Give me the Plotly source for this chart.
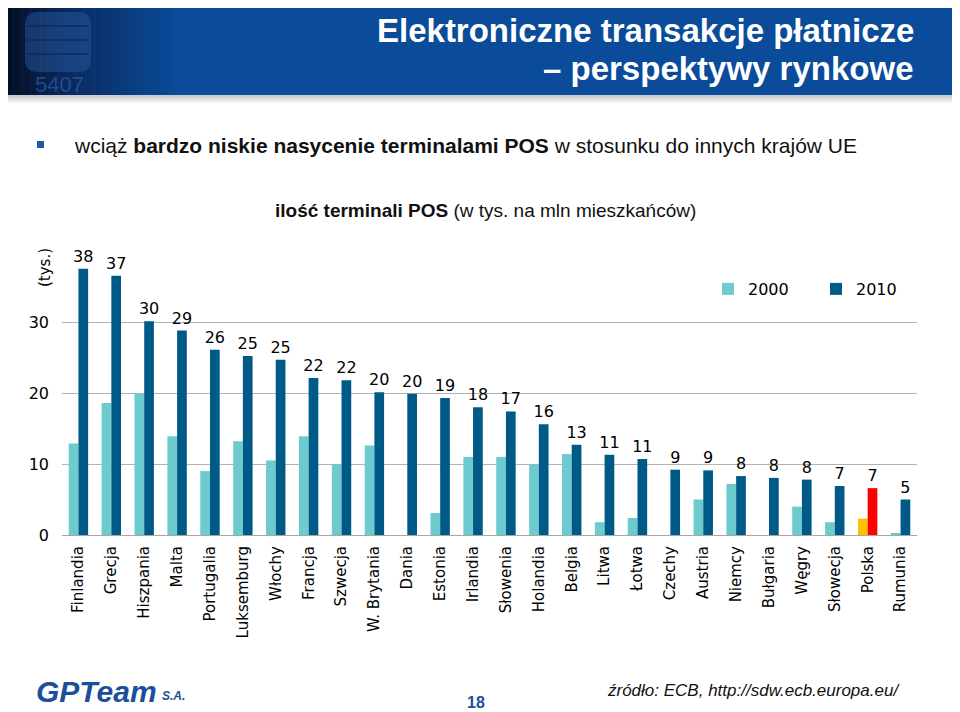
import plotly.graph_objects as go

# ---------------- data ----------------
categories = ["Finlandia", "Grecja", "Hiszpania", "Malta", "Portugalia", "Luksemburg",
              "Włochy", "Francja", "Szwecja", "W. Brytania", "Dania", "Estonia",
              "Irlandia", "Słowenia", "Holandia", "Belgia", "Litwa", "Łotwa",
              "Czechy", "Austria", "Niemcy", "Bułgaria", "Węgry", "Słowecja",
              "Polska", "Rumunia"]
values_2000 = [12.9, 18.6, 19.9, 13.9, 9.0, 13.2, 10.5, 13.9, 9.9, 12.6, None, 3.1,
               11.0, 11.0, 9.9, 11.4, 1.8, 2.4, None, 5.0, 7.2, None, 4.0, 1.8,
               2.3, 0.2]
values_2010 = [37.5, 36.5, 30.1, 28.8, 26.1, 25.2, 24.7, 22.1, 21.8, 20.1, 19.9, 19.3,
               18.0, 17.4, 15.6, 12.7, 11.3, 10.7, 9.2, 9.1, 8.3, 8.05, 7.8, 6.9,
               6.6, 5.0]
labels_2010 = [38, 37, 30, 29, 26, 25, 25, 22, 22, 20, 20, 19, 18, 17, 16, 13, 11, 11,
               9, 9, 8, 8, 8, 7, 7, 5]
series_names = ["2000", "2010"]
y_ticks = [0, 10, 20, 30, 40]
y_ticktext = ["0", "10", "20", "30", ""]

highlight = "Polska"
C2000, C2010 = "#6DCBD0", "#005A87"
H2000, H2010 = "#FFC000", "#FF0000"

colors_2000 = [H2000 if c == highlight else C2000 for c in categories]
colors_2010 = [H2010 if c == highlight else C2010 for c in categories]

# ---------------- geometry helpers (reference pixel coords) ----------------
PAGE_OFF = 8                      # browser body margin
W, H = 960 - PAGE_OFF, 712 - PAGE_OFF
L, R, T, B = 62, 43, 251, 177     # plot area in reference coords
PW, PH = 960 - L - R, 712 - T - B


def px(x):
    return (x - L) / PW


def py(y):
    return (712 - B - y) / PH


CHART_FONT = "DejaVu Sans, Verdana, sans-serif"
NARROW = "Liberation Sans Narrow, Arial Narrow, Liberation Sans, sans-serif"

fig = go.Figure()
fig.add_trace(go.Bar(x=categories, y=values_2000, name=series_names[0],
                     marker=dict(color=colors_2000, line=dict(width=0)),
                     hoverinfo="x+y"))
fig.add_trace(go.Bar(x=categories, y=values_2010, name=series_names[1],
                     marker=dict(color=colors_2010, line=dict(width=0)),
                     text=labels_2010, textposition="outside", constraintext="none",
                     cliponaxis=False,
                     textfont=dict(size=16, color="#000000", family=CHART_FONT)))

shapes = []
annotations = []


def lerp(c1, c2, t):
    return "rgb(%d,%d,%d)" % tuple(round(a + (b - a) * t) for a, b in zip(c1, c2))


dark = (4, 12, 30)
mid = (10, 40, 90)
blue = (10, 75, 154)
shapes.append(dict(type="rect", xref="paper", yref="paper", x0=px(0), x1=px(960),
                   y0=py(95), y1=py(0), fillcolor=lerp(blue, blue, 0), line=dict(width=0),
                   layer="below"))
N = 40
for i in range(N):
    x0 = i * 4.5
    t = i / (N - 1)
    if t < 0.35:
        col = lerp(dark, mid, t / 0.35)
    else:
        col = lerp(mid, blue, (t - 0.35) / 0.65)
    shapes.append(dict(type="rect", xref="paper", yref="paper", x0=px(x0), x1=px(x0 + 4.6),
                       y0=py(95), y1=py(0), fillcolor=col, line=dict(width=0), layer="below"))
# chip
shapes.append(dict(type="path", xref="paper", yref="paper",
                   path="M %f,%f L %f,%f Q %f,%f %f,%f L %f,%f Q %f,%f %f,%f L %f,%f Q %f,%f %f,%f L %f,%f Q %f,%f %f,%f Z" % (
                       px(38), py(12), px(78), py(12), px(91), py(12), px(91), py(25),
                       px(91), py(60), px(91), py(72), px(78), py(72),
                       px(38), py(72), px(25), py(72), px(25), py(60),
                       px(25), py(25), px(25), py(12), px(38), py(12)),
                   fillcolor="rgba(40,95,170,0.45)", line=dict(width=0), layer="below"))
for yy in (26, 40, 54):
    shapes.append(dict(type="line", xref="paper", yref="paper", x0=px(27), x1=px(89),
                       y0=py(yy), y1=py(yy), line=dict(color="rgba(10,30,70,0.6)", width=1.5),
                       layer="below"))
annotations.append(dict(text="5407", x=px(33), y=py(84), xref="paper", yref="paper",
                        xanchor="left", yanchor="middle", showarrow=False,
                        font=dict(family=NARROW, size=22, color="rgba(40,95,170,0.7)")))
# gray strip below banner
for i, col in enumerate(["#c9cdd3", "#d6d9dd", "#e4e6e8", "#f1f2f3"]):
    shapes.append(dict(type="rect", xref="paper", yref="paper", x0=px(0), x1=px(960),
                       y0=py(95 + 2 * (i + 1)), y1=py(95 + 2 * i), fillcolor=col,
                       line=dict(width=0), layer="below"))

# title
annotations.append(dict(text="<b>Elektroniczne transakcje płatnicze</b>", x=px(916), y=py(31),
                        xref="paper", yref="paper", xanchor="right", yanchor="middle",
                        showarrow=False, font=dict(family=NARROW, size=33, color="white")))
annotations.append(dict(text="<b>– perspektywy rynkowe</b>", x=px(916), y=py(68),
                        xref="paper", yref="paper", xanchor="right", yanchor="middle",
                        showarrow=False, font=dict(family=NARROW, size=33, color="white")))

# bullet
shapes.append(dict(type="rect", xref="paper", yref="paper", x0=px(37), x1=px(44),
                   y0=py(148), y1=py(141), fillcolor="#1f5aa0", line=dict(width=0)))
annotations.append(dict(text="wciąż <b>bardzo niskie nasycenie terminalami POS</b> w stosunku do innych krajów UE",
                        x=px(72), y=py(145), xref="paper", yref="paper", xanchor="left",
                        yanchor="middle", showarrow=False,
                        font=dict(family=NARROW, size=21, color="#111111")))
annotations.append(dict(text="<b>ilość terminali POS</b> (w tys. na mln mieszkańców)",
                        x=px(485), y=py(210), xref="paper", yref="paper", xanchor="center",
                        yanchor="middle", showarrow=False,
                        font=dict(family=NARROW, size=19, color="#111111")))

# axis unit label
annotations.append(dict(text="(tys.)", x=px(45), y=py(268), xref="paper", yref="paper",
                        xanchor="center", yanchor="middle", textangle=-90, showarrow=False,
                        font=dict(family=CHART_FONT, size=15, color="#000000")))

# footer
annotations.append(dict(text="<b><i>GPTeam</i></b>", x=px(34), y=py(691), xref="paper",
                        yref="paper", xanchor="left", yanchor="middle", showarrow=False,
                        font=dict(family="Liberation Sans, Arial, sans-serif", size=30,
                                  color="#1a4f9c")))
annotations.append(dict(text="<b><i>S.A.</i></b>", x=px(160), y=py(696), xref="paper",
                        yref="paper", xanchor="left", yanchor="middle", showarrow=False,
                        font=dict(family="Liberation Sans, Arial, sans-serif", size=12,
                                  color="#1a4f9c")))
annotations.append(dict(text="<b>18</b>", x=px(476), y=py(702), xref="paper", yref="paper",
                        xanchor="center", yanchor="middle", showarrow=False,
                        font=dict(family=NARROW, size=16, color="#1b4f9c")))
annotations.append(dict(text="<i>źródło: ECB, http://sdw.ecb.europa.eu/</i>", x=px(605),
                        y=py(690), xref="paper", yref="paper", xanchor="left",
                        yanchor="middle", showarrow=False,
                        font=dict(family=NARROW, size=17, color="#111111")))

fig.update_layout(
    width=W, height=H,
    margin=dict(l=L - PAGE_OFF, r=R, t=T - PAGE_OFF, b=B, autoexpand=False),
    paper_bgcolor="white", plot_bgcolor="white",
    barmode="group", bargap=0.41, bargroupgap=0,
    font=dict(family=CHART_FONT, size=15, color="#000000"),
    showlegend=True,
    legend=dict(orientation="h", x=px(708), y=py(289), xref="paper", yref="paper",
                xanchor="left", yanchor="middle", entrywidth=63,
                entrywidthmode="pixels", font=dict(size=16, family=CHART_FONT),
                bgcolor="rgba(0,0,0,0)", itemwidth=30, tracegroupgap=0),
    shapes=shapes,
    annotations=annotations,
    xaxis=dict(tickangle=-90, showgrid=False, showline=True, linecolor="#a6a6a6",
               linewidth=1, ticks="", tickfont=dict(size=15, family=CHART_FONT),
               ticklabelstandoff=4),
    yaxis=dict(range=[0, 40], tickvals=y_ticks, ticktext=y_ticktext, showgrid=True,
               gridcolor="#b3b3b3", gridwidth=1, zeroline=False, showline=False,
               ticks="", tickfont=dict(size=16, family=CHART_FONT),
               ticklabelstandoff=12),
)

fig.write_html("out.html")
